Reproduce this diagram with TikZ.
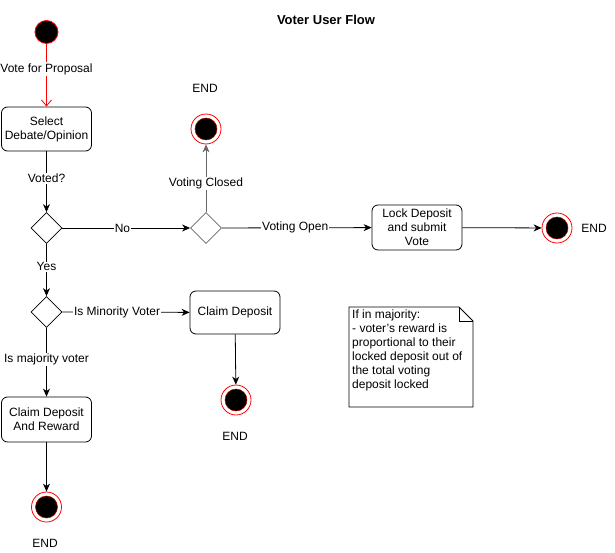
\documentclass[tikz,border=0pt]{standalone}
\usepackage{fontspec}
\setmainfont{Liberation Sans}
\usetikzlibrary{arrows.meta,shapes.geometric}
\newcommand{\fs}{\fontsize{12}{14}\selectfont}
\begin{document}
\begin{tikzpicture}[x=1pt,y=-1pt,
  every node/.style={font=\fs},
  box/.style={draw, rounded corners=6pt, minimum width=90pt, minimum height=44pt, align=center, inner sep=2pt, line width=0.8pt},
  dia/.style={draw, diamond, minimum width=31pt, minimum height=31pt, inner sep=0pt, line width=0.8pt},
  endc/.style={circle, draw=red, fill=white, minimum size=30pt, inner sep=0pt, line width=0.8pt,
    path picture={\draw[red!70!black, fill=black, line width=0.5pt] (path picture bounding box.center) circle (11pt);}},
  startc/.style={circle, draw=red, fill=black, minimum size=23pt, inner sep=0pt, line width=0.8pt},
  lbl/.style={fill=white, inner sep=1pt},
  arr/.style={line width=0.8pt, -{Stealth[length=8pt,width=7pt,inset=2.5pt]}},
  openarr/.style={line width=0.8pt, draw=red, -{Straight Barb[length=6pt,width=10pt]}}
]
\useasboundingbox (0,0) rectangle (615,553);
\node[font=\bfseries\fontsize{13}{15}\selectfont] (title) at (326,20) {Voter User Flow};

\node[startc] (start) at (46.5,32) {};
\node[box] (sel) at (46.5,129) {Select\\Debate/Opinion};
\node[dia] (d1) at (46.5,228) {};
\node[dia, draw=black!60] (d2) at (206,228) {};
\node[endc] (e1) at (206,129) {};
\node (t1) at (205,88) {END};
\node[box, minimum height=45pt] (lock) at (417,227.5) {Lock Deposit\\and submit\\Vote};
\node[endc] (e2) at (557,228) {};
\node (t2) at (594,228) {END};
\node[dia] (d3) at (46.5,312) {};
\node[box, minimum height=43pt] (claim) at (235,312.5) {Claim Deposit};
\node[endc] (e3) at (236,400) {};
\node (t3) at (235,436) {END};
\node[box, minimum height=45pt] (cdr) at (46.5,419.5) {Claim Deposit\\And Reward};
\node[endc] (e4) at (46.5,507) {};
\node (t4) at (45,543) {END};

\draw[openarr] (start) -- (sel) node[lbl, pos=0.4, text=black] {Vote for Proposal};
\draw[arr] (sel) -- (d1) node[lbl, pos=0.44] {Voted?};
\draw[arr] (d1) -- (d2) node[lbl, pos=0.47] {No};
\draw[arr, draw=black!60] (d2) -- (e1) node[lbl, pos=0.42, text=black] {Voting Closed};
\draw[arr] (d2) -- (lock) node[lbl, pos=0.49] {Voting Open};
\draw[arr] (lock) -- (e2);
\draw[arr] (d1) -- (d3) node[lbl, pos=0.44] {Yes};
\draw[arr] (d3) -- (claim) node[lbl, pos=0.43] {Is Minority Voter};
\draw[arr] (d3) -- (cdr) node[lbl, pos=0.46] {Is majority voter};
\draw[arr] (claim) -- (e3);
\draw[arr] (cdr) -- (e4);

\draw[line width=0.8pt] (349,307) -- (459,307) -- (473,321) -- (473,407) -- (349,407) -- cycle;
\draw[line width=0.8pt] (459,307) -- (459,321) -- (473,321);
\node[anchor=north west, align=left, inner sep=0pt] (note) at (352,310) {If in majority:\\- voter's reward is\\proportional to their\\locked deposit out of\\the total voting\\deposit locked};
\end{tikzpicture}
\end{document}
